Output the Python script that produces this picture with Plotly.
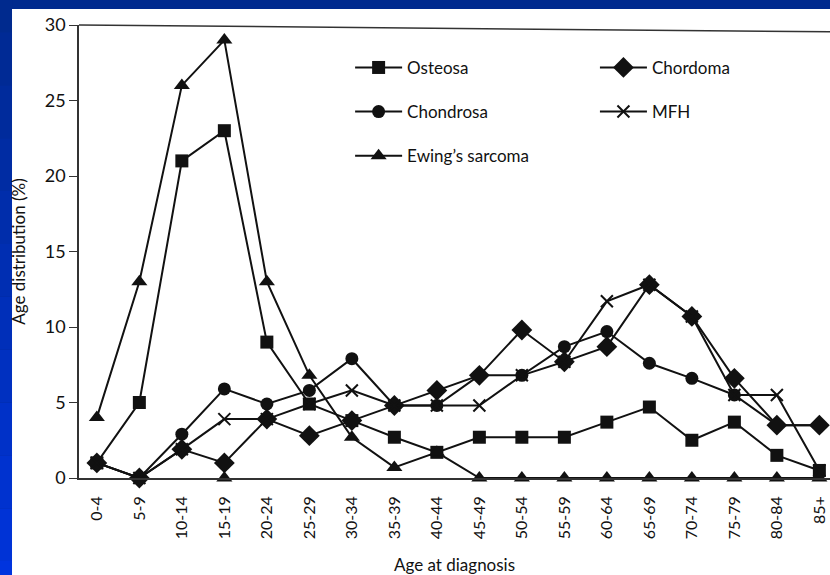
import plotly.graph_objects as go

ages = ["0-4", "5-9", "10-14", "15-19", "20-24", "25-29", "30-34", "35-39", "40-44",
        "45-49", "50-54", "55-59", "60-64", "65-69", "70-74", "75-79", "80-84", "85+"]
osteosa = [1, 5, 21, 23, 9, 4.9, 3.8, 2.7, 1.7, 2.7, 2.7, 2.7, 3.7, 4.7, 2.5, 3.7, 1.5, 0.5]
chondrosa = [1, 0, 2.9, 5.9, 4.9, 5.8, 7.9, 4.8, 4.8, 6.8, 6.8, 8.7, 9.7, 7.6, 6.6, 5.5, 3.5, 3.5]
ewing = [4, 13, 26, 29, 13, 6.8, 2.7, 0.7, 1.7, 0, 0, 0, 0, 0, 0, 0, 0, 0]
chordoma = [1, 0, 1.9, 1, 3.9, 2.8, 3.8, 4.8, 5.8, 6.8, 9.8, 7.7, 8.7, 12.8, 10.7, 6.6, 3.5, 3.5]
mfh = [1, 0, 1.9, 3.9, 3.9, 4.9, 5.8, 4.8, 4.8, 4.8, 6.8, 7.7, 11.7, 12.8, 10.7, 5.5, 5.5, 0.5]
# stray triangle drawn on the axis under 15-19 in the original figure
stray_x = ["15-19"]
stray_y = [0]
y_ticks = [0, 5, 10, 15, 20, 25, 30]

FONT = "Lato"
BLACK = "#111111"

fig = go.Figure()

def add(name, y, symbol, size, legend, group, line_w=0):
    fig.add_trace(go.Scatter(
        x=ages, y=y, name=name, mode="lines+markers",
        line=dict(color=BLACK, width=2),
        marker=dict(symbol=symbol, size=size, color=BLACK,
                    line=dict(color=BLACK, width=line_w)),
        legend=legend, legendgroup=group, cliponaxis=False,
    ))

add("Osteosa", osteosa, "square", 13, "legend", "a")
add("Chondrosa", chondrosa, "circle", 13, "legend", "b")
add("Ewing\u2019s sarcoma", ewing, "triangle-up", 14, "legend", "c")
add("Chordoma", chordoma, "diamond", 16, "legend2", "d")
add("MFH", mfh, "x-thin-open", 12, "legend2", "e", line_w=2)

fig.add_trace(go.Scatter(
    x=stray_x, y=stray_y, mode="markers", showlegend=False,
    marker=dict(symbol="triangle-up", size=14, color=BLACK), cliponaxis=False,
))

shapes = []
# slide background: white picture on a blue slide
n = 12
for i in range(n):
    t = i / (n - 1)
    r, g, b = 0, int(42 + (52 - 42) * t), int(142 + (222 - 142) * t)
    shapes.append(dict(type="rect", xref="paper", yref="paper",
                       x0=-0.2, x1=-0.0892, y0=1.1 - (i + 1) * (1.4 / n), y1=1.1 - i * (1.4 / n),
                       fillcolor=f"rgb({r},{g},{b})", line=dict(width=0), layer="below"))
shapes.append(dict(type="rect", xref="paper", yref="paper", x0=-0.0892, x1=1.05,
                   y0=-0.3, y1=1.0353, fillcolor="white", line=dict(width=0), layer="below"))
# top frame line (slightly tilted as in the scan)
shapes.append(dict(type="line", xref="paper", yref="paper", x0=0, x1=1, y0=1, y1=0.985,
                   line=dict(color="#333333", width=1.5)))

fig.update_layout(
    width=830, height=575,
    margin=dict(l=79, r=0, t=25, b=97, autoexpand=False),
    paper_bgcolor="rgb(0,42,142)",
    plot_bgcolor="white",
    font=dict(family=FONT, size=16, color=BLACK),
    shapes=shapes,
    showlegend=True,
    legend=dict(x=0.361, y=0.945, xanchor="left", yanchor="top", bgcolor="rgba(0,0,0,0)",
                itemwidth=47, tracegroupgap=19, font=dict(size=17)),
    legend2=dict(x=0.687, y=0.945, xanchor="left", yanchor="top", bgcolor="rgba(0,0,0,0)",
                 itemwidth=47, tracegroupgap=19, font=dict(size=17)),
    xaxis=dict(
        type="category", categoryorder="array", categoryarray=ages, automargin=False,
        range=[-0.42, 17.25], tickangle=-90, showgrid=False, zeroline=False,
        showline=True, linecolor="#333333", linewidth=1.5, ticks="", ticklabelstandoff=10,
        tickfont=dict(size=16),
        title=dict(text="Age at diagnosis", font=dict(size=17), standoff=22),
    ),
    yaxis=dict(
        range=[0, 30], tickvals=y_ticks, showgrid=False, zeroline=False, automargin=False,
        showline=True, linecolor="#333333", linewidth=1.5, ticks="outside", ticklen=8,
        tickcolor="#333333", tickfont=dict(size=18),
        title=dict(text="Age distribution (%)", font=dict(size=17), standoff=15),
    ),
)

fig.write_html("out.html", config={"displayModeBar": False},
               post_script="document.body.style.margin='0';document.body.style.overflow='hidden';")
